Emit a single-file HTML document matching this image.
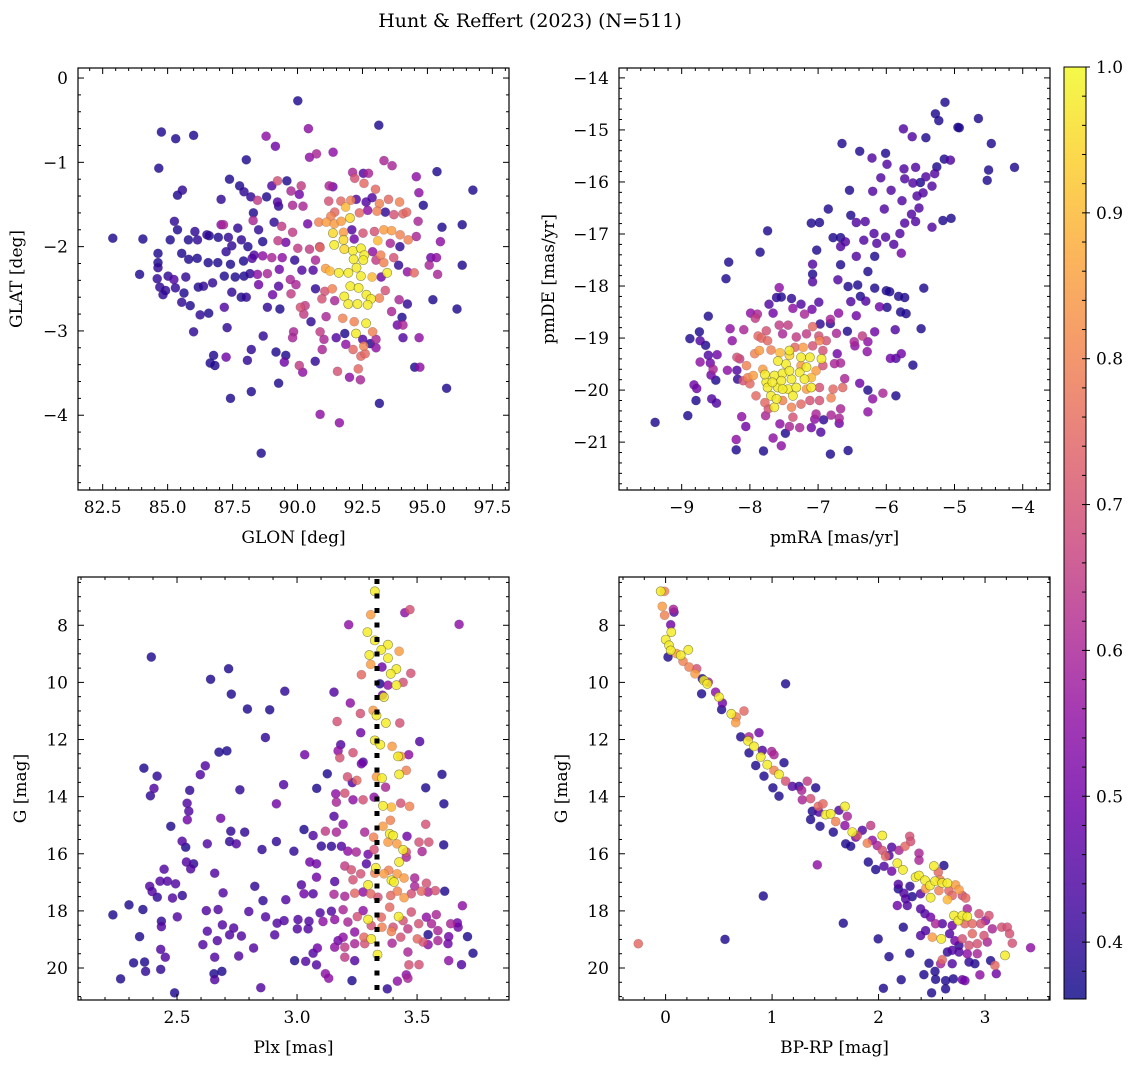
<!DOCTYPE html>
<html><head><meta charset="utf-8"><style>
html,body{margin:0;padding:0;background:#fff;}
svg{display:block;font-family:"DejaVu Serif","Liberation Serif",serif;}
</style></head><body>
<svg id="fig" width="1136" height="1067" viewBox="0 0 1136 1067" xmlns="http://www.w3.org/2000/svg">
<defs>
<linearGradient id="cbgrad" x1="0" y1="1" x2="0" y2="0">
<stop offset="0" stop-color="#0d0887"/><stop offset="0.1" stop-color="#41049d"/><stop offset="0.2" stop-color="#6a00a8"/><stop offset="0.3" stop-color="#8f0da4"/><stop offset="0.4" stop-color="#b12a90"/><stop offset="0.5" stop-color="#cc4778"/><stop offset="0.6" stop-color="#e16462"/><stop offset="0.7" stop-color="#f2844b"/><stop offset="0.8" stop-color="#fca636"/><stop offset="0.9" stop-color="#fcce25"/><stop offset="1" stop-color="#f0f921"/>
</linearGradient>
</defs>
<text x="530" y="27" font-size="19" text-anchor="middle">Hunt &amp; Reffert (2023) (N=511)</text>
</svg>
<script>
// ---------- data ----------
const glonGlatProb = [[90.01,-0.27,.38],[93.13,-0.56,.38],[84.76,-0.64,.38],[85.31,-0.72,.38],[86.0,-0.68,.38],[84.66,-1.07,.38],[90.42,-0.6,.55],[88.79,-0.69,.55],[89.15,-0.81,.5],[88.03,-0.97,.38],[90.46,-0.94,.55],[90.73,-0.9,.6],[91.37,-0.88,.55],[93.33,-0.98,.6],[93.64,-1.04,.6],[95.37,-1.11,.38],[96.75,-1.33,.38],[92.12,-1.12,.6],[92.53,-1.13,.45],[92.73,-1.13,.6],[92.2,-1.19,.7],[92.56,-1.25,.75],[93.0,-1.32,.75],[94.57,-1.17,.55],[87.38,-1.2,.38],[87.77,-1.28,.38],[87.94,-1.35,.4],[89.23,-1.22,.7],[89.59,-1.22,.38],[89.01,-1.28,.45],[89.75,-1.34,.6],[90.07,-1.38,.5],[90.14,-1.28,.65],[91.22,-1.28,.6],[91.36,-1.29,.5],[85.38,-1.39,.38],[85.57,-1.33,.4],[87.06,-1.44,.4],[88.2,-1.41,.4],[88.46,-1.45,.65],[88.81,-1.41,.38],[89.23,-1.47,.45],[89.27,-1.52,.4],[89.81,-1.51,.6],[90.21,-1.52,.6],[94.67,-1.36,.55],[94.84,-1.51,.38],[91.2,-1.46,.7],[91.67,-1.46,.75],[92.05,-1.45,.8],[92.26,-1.44,.45],[92.64,-1.47,.45],[92.87,-1.42,.45],[93.15,-1.49,.8],[93.5,-1.44,.75],[93.93,-1.47,.8],[91.43,-1.59,.75],[91.85,-1.53,.9],[91.28,-1.64,.8],[90.82,-1.71,.8],[91.11,-1.71,.85],[91.42,-1.73,.85],[91.68,-1.7,.85],[92.02,-1.66,.95],[92.38,-1.6,.75],[92.7,-1.57,.55],[93.06,-1.58,.8],[93.38,-1.59,.4],[93.71,-1.62,.7],[94.06,-1.61,.75],[94.2,-1.59,.75],[88.3,-1.6,.38],[88.29,-1.69,.6],[89.1,-1.71,.4],[87.06,-1.74,.55],[87.15,-1.74,.6],[87.7,-1.78,.4],[88.5,-1.8,.4],[89.39,-1.76,.65],[90.39,-1.73,.5],[94.64,-1.7,.6],[95.56,-1.77,.38],[96.34,-1.74,.38],[85.26,-1.7,.4],[85.38,-1.8,.38],[86.05,-1.82,.4],[86.51,-1.86,.4],[86.95,-1.89,.38],[87.34,-1.89,.4],[91.36,-1.84,.95],[91.77,-1.83,.85],[92.09,-1.8,.45],[92.52,-1.84,.7],[92.96,-1.82,.7],[93.32,-1.8,.85],[93.62,-1.81,.85],[93.95,-1.86,.8],[94.26,-1.92,.8],[94.57,-1.88,.6],[95.5,-1.94,.55],[82.89,-1.9,.38],[84.05,-1.91,.38],[85.1,-1.92,.38],[85.8,-1.92,.38],[86.15,-1.92,.4],[86.6,-1.87,.38],[87.84,-1.92,.4],[88.66,-1.94,.38],[89.25,-1.93,.65],[89.55,-1.95,.5],[89.81,-1.83,.65],[91.41,-1.98,.98],[91.77,-1.92,.95],[92.18,-1.91,.5],[93.09,-1.93,.9],[93.57,-1.96,.6],[93.94,-2.0,.4],[90.85,-2.0,.7],[84.63,-2.08,.38],[85.54,-2.08,.38],[87.25,-2.06,.4],[87.47,-1.99,.4],[88.09,-2.0,.38],[88.33,-2.1,.45],[88.66,-2.11,.55],[89.01,-2.13,.6],[89.41,-2.13,.55],[90.01,-2.02,.65],[90.46,-2.03,.65],[90.87,-2.01,.75],[91.8,-2.03,.95],[92.13,-2.05,.98],[92.44,-2.02,.98],[92.57,-2.1,.98],[92.89,-2.06,.55],[93.2,-2.1,.8],[93.7,-2.13,.7],[95.13,-2.13,.5],[95.35,-2.13,.55],[84.63,-2.19,.38],[84.63,-2.25,.4],[85.81,-2.15,.38],[86.14,-2.14,.38],[86.56,-2.19,.38],[86.93,-2.19,.38],[87.42,-2.21,.38],[87.92,-2.17,.38],[88.25,-2.14,.45],[89.89,-2.16,.4],[90.69,-2.16,.6],[92.16,-2.15,.98],[92.53,-2.16,.98],[93.02,-2.16,.65],[93.32,-2.19,.8],[93.89,-2.22,.4],[95.07,-2.22,.6],[96.34,-2.22,.38],[83.92,-2.33,.38],[84.6,-2.38,.4],[85.02,-2.35,.4],[85.24,-2.39,.45],[84.7,-2.48,.4],[84.92,-2.52,.4],[85.3,-2.49,.4],[85.7,-2.36,.4],[86.18,-2.48,.38],[86.38,-2.47,.4],[86.73,-2.43,.4],[87.18,-2.35,.38],[87.6,-2.36,.38],[87.94,-2.35,.38],[88.17,-2.32,.4],[88.46,-2.33,.55],[88.84,-2.32,.6],[89.3,-2.27,.5],[89.72,-2.39,.6],[90.17,-2.28,.45],[90.6,-2.28,.45],[91.08,-2.26,.85],[91.25,-2.29,.9],[91.59,-2.31,.98],[91.96,-2.31,.98],[92.27,-2.25,.98],[92.44,-2.35,.98],[92.87,-2.36,.9],[93.45,-2.31,.98],[93.22,-2.36,.5],[94.23,-2.3,.55],[94.49,-2.31,.75],[95.39,-2.33,.6],[85.63,-2.55,.38],[84.82,-2.57,.4],[87.47,-2.54,.4],[87.83,-2.6,.38],[88.03,-2.6,.4],[88.5,-2.45,.5],[89.04,-2.57,.5],[89.27,-2.47,.45],[89.75,-2.56,.65],[89.94,-2.45,.6],[90.69,-2.5,.4],[91.05,-2.53,.7],[91.34,-2.5,.8],[91.8,-2.59,.98],[92.03,-2.47,.98],[92.35,-2.49,.98],[92.65,-2.57,.98],[92.83,-2.62,.98],[93.15,-2.61,.8],[93.38,-2.52,.7],[93.91,-2.63,.6],[94.23,-2.68,.4],[95.21,-2.63,.38],[85.54,-2.66,.4],[85.87,-2.7,.38],[86.25,-2.81,.4],[86.58,-2.79,.38],[87.18,-2.72,.45],[88.84,-2.72,.4],[89.32,-2.74,.38],[90.11,-2.72,.7],[90.29,-2.7,.65],[90.94,-2.62,.7],[91.43,-2.64,.6],[91.95,-2.68,.98],[92.31,-2.68,.98],[92.7,-2.69,.98],[96.14,-2.74,.38],[90.24,-2.8,.65],[90.52,-2.89,.4],[91.1,-2.83,.6],[91.74,-2.85,.8],[92.18,-2.89,.8],[92.64,-2.91,.98],[93.62,-2.77,.6],[94.02,-2.84,.38],[94.06,-2.93,.6],[93.84,-2.93,.5],[92.89,-3.01,.8],[92.25,-3.03,.98],[91.82,-3.03,.38],[90.87,-3.01,.65],[91.02,-3.1,.6],[89.85,-3.01,.6],[89.81,-3.08,.6],[86.0,-3.01,.4],[87.29,-2.96,.4],[88.68,-3.06,.4],[88.22,-3.22,.4],[89.17,-3.25,.38],[89.55,-3.29,.38],[89.49,-3.37,.5],[90.68,-3.36,.4],[90.95,-3.22,.6],[91.49,-3.08,.45],[91.86,-3.16,.55],[92.51,-3.1,.45],[92.8,-3.15,.38],[93.02,-3.1,.6],[93.02,-3.2,.55],[92.55,-3.18,.8],[92.44,-3.3,.75],[92.6,-3.27,.75],[92.14,-3.22,.75],[94.06,-3.08,.45],[94.68,-3.08,.55],[86.77,-3.29,.38],[86.64,-3.38,.38],[86.82,-3.41,.38],[87.25,-3.31,.5],[88.07,-3.35,.4],[90.07,-3.41,.65],[90.2,-3.49,.55],[91.54,-3.48,.7],[92.0,-3.55,.55],[92.42,-3.58,.6],[92.34,-3.45,.75],[94.51,-3.43,.38],[94.71,-3.43,.55],[89.27,-3.62,.38],[87.42,-3.8,.38],[88.22,-3.72,.38],[93.15,-3.86,.38],[95.74,-3.68,.38],[90.87,-3.99,.55],[91.61,-4.09,.55],[88.6,-4.45,.38]];
const glon = glonGlatProb.map(d => d[0]);
const glat = glonGlatProb.map(d => d[1]);
const probA = glonGlatProb.map(d => d[2]);

const pmPoints = [[-5.14,-14.47,.38],[-5.28,-14.69,.38],[-5.23,-14.82,.38],[-4.65,-14.78,.38],[-4.95,-14.95,.38],[-4.93,-14.96,.38],[-5.75,-14.98,.45],[-5.62,-15.13,.45],[-5.42,-15.15,.38],[-4.46,-15.26,.38],[-6.65,-15.26,.38],[-6.39,-15.41,.38],[-6.21,-15.54,.45],[-6.01,-15.45,.38],[-5.99,-15.66,.45],[-5.15,-15.56,.38],[-5.06,-15.58,.45],[-5.26,-15.71,.38],[-4.5,-15.77,.38],[-4.52,-15.97,.38],[-4.12,-15.72,.38],[-5.74,-15.75,.45],[-5.57,-15.72,.45],[-6.08,-15.92,.45],[-5.73,-15.94,.45],[-5.42,-15.9,.45],[-5.29,-15.84,.45],[-5.61,-16.02,.45],[-5.5,-16.01,.38],[-5.33,-16.08,.45],[-6.54,-16.16,.38],[-6.2,-16.18,.45],[-5.93,-16.16,.45],[-5.55,-16.27,.45],[-5.46,-16.21,.45],[-5.77,-16.36,.45],[-5.52,-16.5,.45],[-6.85,-16.52,.38],[-7.1,-16.79,.38],[-6.98,-16.78,.38],[-6.52,-16.64,.38],[-6.44,-16.78,.45],[-6.31,-16.76,.45],[-6.03,-16.52,.45],[-5.63,-16.62,.45],[-5.57,-16.76,.45],[-5.73,-16.79,.45],[-5.17,-16.74,.38],[-5.05,-16.7,.38],[-5.33,-16.87,.45],[-7.74,-16.94,.38],[-6.78,-17.07,.38],[-6.67,-17.07,.38],[-6.6,-17.15,.45],[-6.33,-17.12,.45],[-6.18,-16.99,.45],[-6.01,-17.06,.45],[-5.8,-16.99,.45],[-6.14,-17.18,.45],[-5.89,-17.2,.45],[-5.78,-17.37,.5],[-7.85,-17.35,.38],[-7.02,-17.31,.38],[-6.67,-17.24,.45],[-6.44,-17.43,.45],[-6.17,-17.43,.38],[-8.31,-17.54,.38],[-8.35,-17.86,.38],[-7.08,-17.58,.45],[-6.67,-17.59,.38],[-6.27,-17.72,.38],[-7.08,-17.77,.38],[-7.08,-17.92,.45],[-6.71,-17.88,.45],[-6.56,-18.01,.38],[-6.42,-17.98,.38],[-6.17,-18.04,.38],[-6.0,-18.09,.38],[-5.95,-18.11,.38],[-5.82,-18.2,.38],[-5.73,-18.22,.38],[-5.45,-18.04,.38],[-6.52,-18.3,.45],[-6.38,-18.2,.38],[-6.3,-18.29,.45],[-6.1,-18.4,.5],[-5.99,-18.41,.38],[-5.79,-18.5,.38],[-5.71,-18.53,.38],[-6.44,-18.57,.5],[-7.57,-18.03,.55],[-7.61,-18.22,.4],[-7.54,-18.21,.38],[-7.39,-18.24,.4],[-7.25,-18.35,.45],[-7.72,-18.35,.45],[-7.66,-18.52,.5],[-7.37,-18.43,.55],[-7.2,-18.54,.6],[-7.09,-18.45,.5],[-6.99,-18.31,.45],[-7.99,-18.52,.55],[-7.89,-18.54,.6],[-6.82,-18.64,.6],[-6.7,-18.52,.55],[-6.82,-18.72,.4],[-6.97,-18.73,.4],[-8.61,-18.58,.38],[-8.88,-19.01,.38],[-8.74,-18.88,.38],[-8.65,-19.14,.38],[-8.73,-19.05,.45],[-8.61,-19.33,.45],[-8.48,-19.32,.5],[-8.58,-19.48,.5],[-8.54,-19.6,.6],[-8.73,-19.46,.55],[-8.57,-19.71,.5],[-8.5,-19.81,.38],[-8.82,-19.9,.5],[-8.78,-19.97,.5],[-8.79,-20.2,.38],[-8.56,-20.17,.45],[-8.49,-20.25,.45],[-8.91,-20.49,.38],[-9.39,-20.62,.38],[-8.29,-18.82,.55],[-8.09,-18.84,.6],[-8.26,-19.05,.55],[-8.19,-19.37,.7],[-8.33,-19.62,.55],[-8.19,-19.62,.45],[-8.18,-19.79,.4],[-7.92,-18.62,.65],[-7.88,-18.96,.75],[-7.83,-19.0,.75],[-7.76,-18.86,.7],[-7.57,-18.75,.65],[-7.44,-18.75,.65],[-7.52,-18.92,.6],[-7.32,-18.98,.65],[-7.17,-18.92,.65],[-7.08,-18.78,.75],[-6.99,-18.96,.7],[-6.88,-19.05,.7],[-6.73,-18.91,.6],[-6.57,-18.87,.38],[-6.47,-19.07,.6],[-6.46,-19.15,.55],[-6.35,-18.96,.65],[-6.27,-19.07,.55],[-6.17,-18.88,.5],[-6.28,-19.26,.55],[-6.72,-19.3,.5],[-6.67,-19.48,.6],[-6.61,-19.78,.6],[-5.61,-19.52,.38],[-5.94,-19.39,.5],[-5.86,-19.39,.45],[-5.78,-19.3,.5],[-5.49,-18.82,.38],[-5.87,-18.84,.45],[-6.39,-19.87,.5],[-6.27,-20.0,.38],[-6.05,-20.06,.6],[-6.2,-20.17,.55],[-5.86,-20.11,.38],[-6.27,-20.42,.55],[-6.67,-20.36,.6],[-6.69,-20.54,.6],[-6.69,-20.64,.5],[-6.56,-21.16,.38],[-6.82,-21.23,.38],[-8.2,-21.15,.38],[-7.8,-21.17,.38],[-7.54,-21.07,.55],[-7.66,-20.92,.55],[-8.2,-20.95,.55],[-8.12,-20.51,.55],[-8.06,-20.7,.5],[-7.48,-20.83,.38],[-7.42,-20.7,.6],[-7.27,-20.72,.6],[-7.1,-20.72,.5],[-7.05,-20.56,.55],[-6.96,-20.81,.45],[-6.92,-20.57,.4],[-6.81,-20.48,.6],[-7.77,-20.49,.6],[-7.56,-20.65,.55],[-8.05,-19.53,.8],[-7.93,-19.3,.8],[-7.86,-19.24,.85],[-7.74,-19.05,.75],[-7.69,-19.23,.8],[-7.56,-19.28,.9],[-7.42,-19.33,.95],[-7.34,-19.18,.75],[-7.22,-19.18,.85],[-7.08,-19.15,.7],[-6.98,-19.05,.8],[-6.93,-19.24,.7],[-6.95,-19.4,.98],[-7.03,-19.63,.85],[-6.93,-19.53,.7],[-6.76,-19.49,.6],[-6.64,-19.95,.75],[-6.78,-19.98,.75],[-6.81,-20.15,.8],[-6.98,-20.2,.7],[-7.12,-20.2,.7],[-7.25,-20.27,.75],[-7.39,-20.33,.8],[-7.52,-20.2,.8],[-7.64,-20.33,.98],[-7.78,-20.24,.75],[-7.91,-20.11,.75],[-8.0,-19.88,.75],[-8.1,-19.82,.7],[-8.15,-19.4,.65],[-7.95,-19.72,.85],[-7.81,-19.6,.85],[-8.03,-19.76,.8],[-7.17,-19.98,.85],[-7.1,-19.76,.9],[-7.25,-19.53,.85],[-6.98,-19.95,.7],[-7.37,-20.52,.7],[-7.73,-20.36,.7],[-7.03,-20.46,.6],[-7.76,-19.85,.98],[-7.64,-19.72,.98],[-7.52,-19.68,.98],[-7.39,-19.79,.98],[-7.27,-19.66,.98],[-7.17,-19.56,.98],[-7.1,-19.95,.98],[-7.44,-19.98,.98],[-7.59,-19.95,.98],[-7.69,-20.11,.98],[-7.61,-20.17,.98],[-7.37,-20.11,.98],[-7.32,-19.95,.98],[-7.47,-19.5,.98],[-7.59,-19.44,.98],[-7.42,-19.24,.98],[-7.25,-19.37,.98],[-7.12,-19.37,.98],[-7.54,-19.82,.98],[-7.78,-19.7,.98],[-7.74,-19.95,.98],[-7.42,-19.63,.98],[-7.2,-19.79,.98],[-7.52,-19.98,.98],[-7.67,-19.85,.98]];
const pmra = pmPoints.map(d => d[0]);
const pmde = pmPoints.map(d => d[1]);
const probB = pmPoints.map(d => d[2]);

const plxGProb = [[3.324,6.81,.98],[3.307,7.63,.85],[3.449,7.56,.55],[3.47,7.45,.7],[3.215,7.98,.55],[3.675,7.97,.55],[3.293,8.24,.98],[3.324,8.53,.98],[3.379,8.68,.98],[3.351,8.86,.98],[3.425,8.91,.85],[3.301,9.04,.98],[3.379,9.15,.98],[3.307,9.37,.85],[3.354,9.46,.5],[3.414,9.53,.98],[3.39,9.7,.98],[3.268,9.73,.75],[3.474,9.68,.7],[3.345,10.05,.38],[3.379,10.1,.55],[3.414,10.1,.98],[3.442,10.0,.7],[3.356,10.45,.5],[3.362,10.51,.98],[2.393,9.11,.38],[2.715,9.52,.38],[2.64,9.89,.38],[2.726,10.41,.38],[2.949,10.31,.4],[3.154,10.34,.45],[2.793,10.93,.38],[2.886,10.96,.38],[3.222,10.72,.55],[3.264,11.09,.7],[3.317,10.98,.85],[3.331,11.16,.98],[3.37,11.42,.98],[3.167,11.37,.7],[3.428,11.42,.7],[3.265,11.76,.5],[3.324,12.03,.98],[3.347,12.18,.98],[3.396,12.24,.85],[3.511,12.07,.45],[2.868,11.93,.4],[3.032,12.53,.5],[3.182,12.18,.45],[3.171,12.4,.55],[3.178,12.64,.7],[3.233,12.46,.7],[3.275,12.79,.45],[3.268,12.85,.5],[3.421,12.59,.98],[3.432,12.59,.85],[3.465,12.53,.55],[3.455,13.08,.8],[3.425,13.22,.98],[3.354,13.35,.98],[3.331,13.31,.85],[3.21,13.31,.7],[3.249,13.43,.75],[3.369,13.67,.6],[3.23,13.51,.45],[3.126,13.2,.38],[3.604,13.22,.38],[2.675,12.44,.38],[2.708,12.4,.38],[2.362,13.0,.38],[2.417,13.28,.4],[2.618,12.92,.45],[2.597,13.23,.45],[2.404,13.71,.45],[2.389,13.97,.4],[2.553,13.78,.4],[2.762,13.76,.4],[2.944,13.58,.45],[3.082,13.71,.38],[2.542,14.23,.45],[2.549,14.51,.45],[2.543,14.81,.5],[2.682,14.76,.5],[2.914,14.25,.5],[3.161,13.9,.55],[3.199,13.88,.7],[3.275,14.11,.7],[3.233,14.11,.55],[3.164,14.19,.6],[3.321,14.02,.55],[3.358,14.32,.98],[3.393,14.37,.9],[3.432,14.23,.7],[3.469,14.34,.8],[3.536,13.69,.38],[3.612,14.25,.38],[2.474,15.04,.38],[3.154,14.69,.45],[3.192,14.97,.55],[3.118,15.21,.65],[3.164,15.24,.6],[3.029,15.15,.38],[3.067,15.36,.45],[3.282,15.24,.6],[3.319,15.42,.8],[3.358,15.04,.85],[3.389,14.83,.8],[3.386,15.3,.98],[3.4,15.36,.98],[3.379,15.59,.85],[3.416,15.65,.85],[3.458,15.39,.5],[3.536,14.97,.7],[3.508,15.59,.7],[3.549,15.59,.7],[3.611,15.69,.38],[2.521,15.56,.45],[2.536,15.77,.38],[2.626,15.65,.45],[2.724,15.21,.4],[2.719,15.57,.4],[2.747,15.65,.45],[2.782,15.24,.4],[2.854,15.85,.4],[2.914,15.57,.4],[2.987,15.91,.4],[3.101,15.73,.4],[3.143,15.74,.4],[3.185,15.74,.45],[3.212,15.91,.55],[3.247,15.94,.6],[3.296,16.02,.5],[3.321,15.85,.7],[3.442,15.86,.98],[3.455,15.94,.7],[3.521,15.92,.6],[2.539,16.29,.45],[2.569,16.35,.4],[2.557,16.53,.45],[2.657,16.68,.45],[2.446,16.54,.45],[3.053,16.29,.5],[3.081,16.35,.5],[3.199,16.43,.65],[3.226,16.56,.7],[3.289,16.35,.45],[3.328,16.49,.98],[3.425,16.29,.98],[3.455,16.12,.6],[3.081,16.82,.5],[3.157,16.97,.45],[3.233,16.91,.7],[3.265,16.7,.7],[3.324,16.68,.8],[3.362,16.7,.85],[3.393,16.93,.98],[3.404,16.99,.98],[3.382,16.58,.8],[3.417,16.7,.85],[3.446,16.85,.85],[3.49,16.85,.6],[3.539,17.03,.7],[3.49,17.14,.6],[2.429,16.96,.45],[2.46,16.96,.45],[2.494,17.05,.45],[2.386,17.14,.45],[2.396,17.32,.45],[2.418,17.52,.4],[2.481,17.55,.45],[2.522,17.46,.4],[2.692,17.37,.45],[2.824,17.14,.4],[2.858,17.64,.4],[2.953,17.61,.45],[3.018,17.09,.45],[3.029,17.4,.5],[3.067,17.4,.45],[3.154,17.42,.6],[3.199,17.49,.6],[3.24,17.38,.75],[3.275,17.34,.55],[3.296,17.09,.98],[3.307,17.4,.75],[3.337,17.52,.7],[3.39,17.46,.75],[3.418,17.31,.8],[3.446,17.54,.85],[3.476,17.4,.7],[3.518,17.31,.75],[3.546,17.34,.6],[3.576,17.29,.7],[3.615,17.31,.38],[2.233,18.14,.38],[2.3,17.79,.38],[2.358,17.95,.38],[2.501,18.21,.45],[2.622,17.99,.45],[2.671,17.95,.45],[2.799,18.02,.45],[2.869,18.21,.45],[2.917,18.43,.45],[2.946,18.34,.45],[3.004,18.3,.45],[3.05,18.36,.45],[2.435,18.36,.4],[2.435,18.55,.45],[2.344,18.9,.38],[2.319,19.82,.38],[2.365,19.79,.38],[2.369,20.12,.4],[2.265,20.38,.38],[2.432,19.35,.45],[2.451,19.62,.45],[2.432,20.05,.4],[2.49,20.87,.38],[2.626,18.71,.45],[2.608,19.18,.45],[2.657,19.62,.45],[2.654,20.2,.38],[2.657,20.41,.45],[2.687,20.12,.38],[2.668,19.04,.45],[2.689,18.49,.45],[2.719,18.84,.45],[2.736,18.6,.45],[2.768,18.88,.45],[2.757,19.58,.45],[2.819,19.3,.45],[2.849,20.69,.45],[2.907,18.84,.45],[2.99,19.74,.38],[3.001,18.63,.45],[3.046,18.63,.45],[3.036,19.77,.45],[3.067,19.48,.45],[3.085,19.3,.5],[3.081,19.89,.45],[3.118,20.2,.55],[3.132,20.36,.55],[3.229,20.44,.38],[3.376,20.73,.4],[3.418,20.46,.55],[3.462,20.36,.6],[3.455,20.24,.55],[3.466,19.89,.7],[3.508,19.88,.7],[3.685,19.88,.45],[3.733,19.48,.38],[3.71,18.9,.38],[3.689,17.82,.55],[3.632,18.9,.5],[3.629,19.15,.5],[3.587,19.04,.6],[3.546,18.83,.38],[3.58,18.13,.6],[3.64,18.45,.6],[3.671,18.57,.5],[3.668,18.42,.5],[3.632,19.74,.55],[3.096,18.07,.45],[3.143,18.01,.45],[3.108,18.37,.55],[3.157,18.3,.55],[3.192,17.96,.6],[3.212,18.39,.6],[3.251,18.2,.7],[3.275,17.99,.55],[3.296,18.3,.98],[3.309,18.51,.7],[3.351,18.22,.75],[3.386,17.87,.75],[3.423,18.2,.98],[3.442,18.34,.7],[3.476,18.04,.7],[3.507,18.45,.7],[3.539,18.22,.55],[3.4,18.57,.7],[3.354,18.57,.8],[3.309,18.98,.98],[3.279,18.92,.75],[3.24,18.74,.55],[3.192,18.92,.55],[3.171,19.04,.5],[3.157,19.27,.55],[3.199,19.27,.65],[3.24,19.15,.6],[3.282,19.15,.7],[3.24,19.74,.45],[3.199,19.62,.65],[3.396,19.13,.6],[3.432,18.92,.7],[3.501,18.98,.75],[3.525,19.09,.7],[3.462,19.44,.6],[3.546,19.18,.55],[3.335,19.53,.98],[3.393,18.72,.8],[3.462,18.63,.65],[3.56,18.45,.6],[3.587,18.69,.6]];
const plx = plxGProb.map(d => d[0]);
const gmagC = plxGProb.map(d => d[1]);
const probC = plxGProb.map(d => d[2]);
const plxRef = 3.333;

const cmdPoints = [[-0.046,6.81,.98],[-0.01,6.81,.8],[-0.031,7.34,.85],[-0.009,7.65,.8],[0.073,7.44,.6],[0.079,7.54,.45],[0.048,7.98,.5],[0.054,8.24,.98],[0.001,8.5,.98],[0.032,8.7,.98],[0.048,8.88,.98],[0.023,9.11,.38],[0.101,8.99,.85],[0.142,9.05,.98],[0.213,8.86,.98],[0.163,9.26,.8],[0.22,9.46,.8],[0.276,9.7,.85],[0.292,9.52,.7],[0.345,9.87,.38],[0.36,9.93,.98],[0.392,10.05,.98],[0.338,10.4,.38],[0.401,9.99,.6],[0.47,10.34,.55],[0.501,10.51,.98],[0.533,10.72,.5],[0.526,10.95,.38],[0.617,11.1,.98],[0.658,11.41,.85],[0.736,11.0,.75],[0.664,11.21,.8],[0.705,11.91,.38],[0.783,11.91,.6],[0.877,11.76,.5],[0.774,12.05,.98],[0.83,12.24,.98],[0.783,12.47,.38],[0.908,12.38,.45],[0.996,12.42,.6],[0.893,12.61,.98],[0.955,12.88,.98],[0.846,12.91,.38],[0.924,13.28,.38],[1.018,12.53,.6],[1.112,12.81,.38],[1.018,13.08,.8],[1.065,13.22,.98],[1.127,13.46,.7],[1.008,13.69,.38],[1.065,13.98,.38],[1.19,13.64,.45],[1.253,13.64,.4],[1.278,13.78,.6],[1.331,13.46,.65],[1.41,13.69,.38],[1.284,14.11,.6],[1.362,14.07,.7],[1.434,14.34,.75],[1.478,14.25,.75],[1.127,10.05,.38],[1.378,14.51,.38],[1.44,14.54,.45],[1.503,14.63,.98],[1.55,14.6,.98],[1.628,14.48,.45],[1.684,14.34,.98],[1.597,14.87,.8],[1.706,14.69,.6],[1.362,14.8,.38],[1.45,15.04,.38],[1.575,15.24,.38],[1.684,15.01,.55],[1.753,15.24,.98],[1.8,15.36,.7],[1.847,15.18,.45],[1.926,15.01,.65],[2.035,15.36,.98],[1.941,15.53,.55],[1.894,15.63,.8],[1.691,15.65,.38],[1.738,15.74,.38],[1.785,15.42,.5],[1.988,15.71,.6],[2.035,15.88,.7],[2.066,16.09,.75],[2.123,15.77,.45],[2.098,16.06,.45],[2.192,15.88,.6],[2.248,15.74,.75],[2.292,15.39,.7],[2.301,15.57,.7],[2.38,15.98,.6],[2.38,16.23,.6],[2.176,16.33,.98],[2.229,16.56,.98],[1.904,16.29,.38],[1.973,16.55,.38],[2.051,16.44,.45],[2.123,16.61,.5],[1.425,16.39,.55],[2.185,17.07,.45],[2.185,17.23,.38],[2.238,17.38,.45],[2.316,17.5,.38],[2.254,17.58,.45],[2.295,17.14,.4],[2.348,16.82,.98],[2.38,16.76,.98],[2.436,16.93,.98],[2.442,17.23,.85],[2.483,17.11,.98],[2.52,16.43,.98],[2.614,16.41,.38],[2.561,16.64,.75],[2.577,16.91,.8],[2.53,16.96,.98],[2.598,17.02,.98],[2.646,17.03,.98],[2.489,17.54,.98],[2.395,17.4,.45],[2.567,17.29,.8],[2.661,17.29,.75],[2.723,17.09,.85],[2.755,17.26,.85],[2.786,17.46,.7],[2.646,17.61,.9],[2.692,17.46,.75],[2.818,17.55,.75],[2.833,17.93,.6],[2.395,17.93,.45],[2.436,18.1,.45],[2.489,18.22,.5],[2.176,17.81,.5],[2.27,17.81,.45],[2.708,18.16,.98],[2.749,18.34,.98],[2.786,18.16,.98],[2.833,18.2,.98],[2.811,18.45,.75],[2.88,18.45,.75],[2.943,18.1,.7],[2.88,18.8,.75],[2.959,18.45,.7],[3.005,18.34,.55],[3.037,18.16,.7],[3.068,18.63,.6],[3.156,18.57,.7],[3.209,18.57,.7],[3.231,18.8,.7],[3.256,19.13,.7],[3.187,19.56,.98],[3.093,19.91,.75],[3.052,19.74,.38],[3.106,20.2,.5],[2.952,20.24,.55],[3.428,19.29,.55],[2.692,18.51,.5],[2.599,18.45,.45],[2.536,18.45,.6],[2.505,18.92,.85],[2.589,18.98,.98],[2.667,18.8,.45],[2.717,19.04,.5],[2.786,18.98,.7],[2.755,19.21,.4],[2.849,19.21,.7],[2.927,19.15,.7],[2.99,18.86,.7],[3.021,19.09,.6],[2.927,19.5,.6],[2.833,19.5,.55],[2.755,19.44,.45],[2.692,19.38,.45],[2.599,19.71,.75],[2.646,19.44,.4],[2.849,19.79,.4],[2.905,19.85,.38],[2.692,19.85,.45],[2.583,19.85,.6],[2.474,19.83,.38],[2.53,20.12,.38],[2.536,20.4,.38],[2.63,20.44,.38],[2.702,20.38,.38],[2.786,20.41,.5],[2.811,20.44,.5],[2.426,20.23,.38],[2.498,20.87,.38],[2.63,20.73,.38],[2.213,20.41,.38],[2.045,20.71,.38],[2.098,19.6,.38],[2.292,19.48,.38],[1.997,18.98,.38],[2.232,18.57,.38],[2.395,18.86,.45],[2.442,18.69,.45],[1.669,18.43,.38],[0.918,17.48,.38],[0.558,19.0,.38],[-0.256,19.15,.75]];
const bprp = cmdPoints.map(d => d[0]);
const gmagD = cmdPoints.map(d => d[1]);
const probD = cmdPoints.map(d => d[2]);

const ticksA_x = [82.5, 85.0, 87.5, 90.0, 92.5, 95.0, 97.5];
const ticksA_y = [0, -1, -2, -3, -4];
const ticksB_x = [-9, -8, -7, -6, -5, -4];
const ticksB_y = [-14, -15, -16, -17, -18, -19, -20, -21];
const ticksC_x = [2.5, 3.0, 3.5];
const ticksG_y = [8, 10, 12, 14, 16, 18, 20];
const ticksD_x = [0, 1, 2, 3];
const ticksCbar = [0.4, 0.5, 0.6, 0.7, 0.8, 0.9, 1.0];

// ---------- rendering ----------
const NS = "http://www.w3.org/2000/svg";
const svg = document.getElementById("fig");
function el(tag, attrs, parent) {
  const e = document.createElementNS(NS, tag);
  for (const k in attrs) e.setAttribute(k, attrs[k]);
  (parent || svg).appendChild(e);
  return e;
}
const stops = [[0,[13,8,135]],[.1,[65,4,157]],[.2,[106,0,168]],[.3,[143,13,164]],[.4,[177,42,144]],[.5,[204,71,120]],[.6,[225,100,98]],[.7,[242,132,75]],[.8,[252,166,54]],[.9,[252,206,37]],[1,[240,249,33]]];
const CMIN = 0.361, CMAX = 1.0;
function plasma(p) {
  let t = Math.max(0, Math.min(1, (p - CMIN) / (CMAX - CMIN)));
  for (let i = 1; i < stops.length; i++) {
    if (t <= stops[i][0]) {
      const a = stops[i-1], b = stops[i], f = (t - a[0]) / (b[0] - a[0]);
      const c = a[1].map((v, j) => Math.round(v + (b[1][j] - v) * f));
      return "rgb(" + c.join(",") + ")";
    }
  }
  return "rgb(240,249,33)";
}
function fmt(v, dec) { const s = v.toFixed(dec); return s.replace("-", "\u2212"); }

function panel(cfg) {
  const {name, l, t, r, b, xd, yd, xs, ys, xMinor, yMinor, xDec, yDec, xlabel, ylabel, xs_x, ys_x} = cfg;
  const sx = v => l + (v - xd[0]) / (xd[1] - xd[0]) * (r - l);
  const sy = v => b - (v - yd[0]) / (yd[1] - yd[0]) * (b - t);
  const g = el("g", {});
  
  
  const clip = el("clipPath", {id: "clip-" + name}, g);
  el("rect", {x: l, y: t, width: r - l, height: b - t}, clip);
  const pts = el("g", {"clip-path": "url(#clip-" + name + ")"}, g);
  
  
  const idx = cfg.xv.map((_, i) => i).sort((a, c) => cfg.pv[a] - cfg.pv[c]);
  if (cfg.vline !== undefined) cfg.vlineAt = sx(cfg.vline);
  idx.forEach(i => {
    const c = el("circle", {cx: sx(cfg.xv[i]).toFixed(1), cy: sy(cfg.yv[i]).toFixed(1), r: 4.6, fill: plasma(cfg.pv[i]), "fill-opacity": 0.82, stroke: cfg.pv[i] > 0.9 ? "rgba(90,90,40,0.7)" : "rgba(60,40,90,0.25)", "stroke-width": 0.6}, pts);
    
    
  });
  if (cfg.vline !== undefined) {
    const ln = el("line", {x1: cfg.vlineAt, x2: cfg.vlineAt, y1: t + 2, y2: b, stroke: "#000", "stroke-width": 5, "stroke-dasharray": "5 9.5"}, g);
    
    
  }
  // ticks
  const tk = el("g", {stroke: "#000", "stroke-width": 1}, g);
  
  
  const lo = Math.min(xd[0], xd[1]), hi = Math.max(xd[0], xd[1]);
  for (let k = Math.ceil(lo / xMinor - 1e-6); k * xMinor <= hi + 1e-9; k++) {
    const v = k * xMinor, x = sx(v);
    const major = xs.some(m => Math.abs(m - v) < 1e-6);
    const L = major ? 6 : 3;
    el("line", {x1: x, x2: x, y1: b, y2: b - L}, tk);
    el("line", {x1: x, x2: x, y1: t, y2: t + L}, tk);
  }
  const ylo = Math.min(yd[0], yd[1]), yhi = Math.max(yd[0], yd[1]);
  for (let k = Math.ceil(ylo / yMinor - 1e-6); k * yMinor <= yhi + 1e-9; k++) {
    const v = k * yMinor, y = sy(v);
    const major = ys.some(m => Math.abs(m - v) < 1e-6);
    const L = major ? 6 : 3;
    el("line", {x1: l, x2: l + L, y1: y, y2: y}, tk);
    el("line", {x1: r, x2: r - L, y1: y, y2: y}, tk);
  }
  const fr = el("rect", {x: l, y: t, width: r - l, height: b - t, fill: "none", stroke: "#000", "stroke-width": 1.2}, g);
  
  
  xs.forEach(v => {
    const tx = el("text", {x: sx(v), y: b + 23, "font-size": 17, "text-anchor": "middle"}, g);
    
    
    tx.textContent = fmt(v, xDec);
  });
  ys.forEach(v => {
    const tx = el("text", {x: l - 10, y: sy(v) + 6, "font-size": 17, "text-anchor": "end"}, g);
    
    
    tx.textContent = fmt(v, yDec);
  });
  const xl = el("text", {x: (l + r) / 2, y: b + 53, "font-size": 17, "text-anchor": "middle"}, g);
  
  
  xl.textContent = xlabel;
  const cy = (t + b) / 2;
  const yl = el("text", {x: ys_x, y: cy, "font-size": 17, "text-anchor": "middle", transform: "rotate(-90 " + ys_x + " " + cy + ")"}, g);
  
  
  yl.textContent = ylabel;
}

panel({name: "glon-glat-panel", l: 78, t: 68, r: 509, b: 490, xd: [81.55, 98.14], yd: [-4.887, 0.119], xs: ticksA_x, ys: ticksA_y, xMinor: 0.5, yMinor: 0.2, xDec: 1, yDec: 0, xlabel: "GLON [deg]", ylabel: "GLAT [deg]", ys_x: 22, xv: glon, yv: glat, pv: probA});
panel({name: "proper-motion-panel", l: 619, t: 68, r: 1050, b: 490, xd: [-9.919, -3.6], yd: [-21.92, -13.81], xs: ticksB_x, ys: ticksB_y, xMinor: 0.2, yMinor: 0.2, xDec: 0, yDec: 0, xlabel: "pmRA [mas/yr]", ylabel: "pmDE [mas/yr]", ys_x: 554, xv: pmra, yv: pmde, pv: probB});
panel({name: "parallax-mag-panel", l: 78, t: 577, r: 509, b: 1000, xd: [2.0875, 3.883], yd: [21.12, 6.31], xs: ticksC_x, ys: ticksG_y, xMinor: 0.1, yMinor: 0.5, xDec: 1, yDec: 0, xlabel: "Plx [mas]", ylabel: "G [mag]", ys_x: 26, xv: plx, yv: gmagC, pv: probC, vline: plxRef});
panel({name: "cmd-panel", l: 619, t: 577, r: 1050, b: 1000, xd: [-0.4376, 3.61], yd: [21.12, 6.31], xs: ticksD_x, ys: ticksG_y, xMinor: 0.2, yMinor: 0.5, xDec: 0, yDec: 0, xlabel: "BP-RP [mag]", ylabel: "G [mag]", ys_x: 567, xv: bprp, yv: gmagD, pv: probD});

// colorbar
const cb = el("g", {});


const cbT = 67, cbB = 999, cbL = 1064, cbR = 1086;
el("rect", {x: cbL, y: cbT, width: cbR - cbL, height: cbB - cbT, fill: "url(#cbgrad)", "fill-opacity": 0.82}, cb);
el("rect", {x: cbL, y: cbT, width: cbR - cbL, height: cbB - cbT, fill: "none", stroke: "#000", "stroke-width": 1}, cb);
const cs = v => cbB - (v - CMIN) / (CMAX - CMIN) * (cbB - cbT);
for (let k = 19; k <= 50; k++) {
  const v = k * 0.02, y = cs(v);
  if (v < CMIN || v > CMAX + 1e-9) continue;
  el("line", {x1: cbR, x2: cbR - 4, y1: y, y2: y, stroke: "#000", "stroke-width": 1}, cb);
}
ticksCbar.forEach(v => {
  const y = cs(v);
  el("line", {x1: cbR, x2: cbR + 4, y1: y, y2: y, stroke: "#000", "stroke-width": 1}, cb);
  const tx = el("text", {x: 1096, y: y + 6, "font-size": 17}, cb);
  
  
  tx.textContent = v.toFixed(1);
});
</script>
</body></html>
